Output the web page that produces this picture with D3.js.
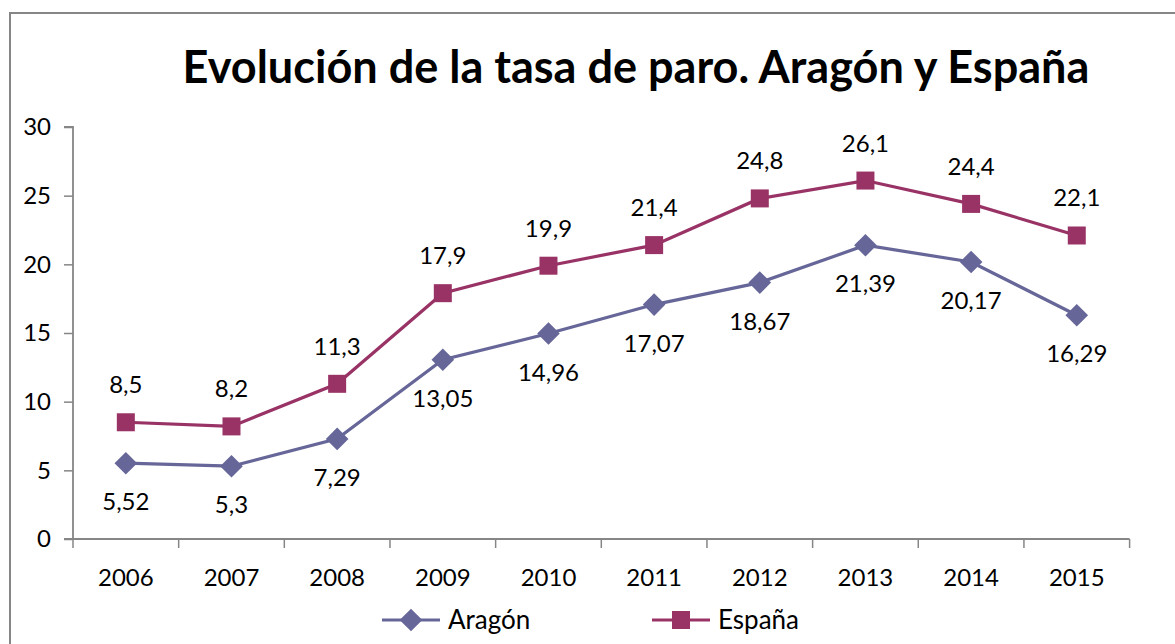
<!DOCTYPE html>
<html>
<head>
<meta charset="utf-8">
<script src="https://cdn.jsdelivr.net/npm/d3@7"></script>
<style>
  body { margin: 0; background: #fff; }
  text { font-family: Lato, "Open Sans", sans-serif; fill: #000; }
</style>
</head>
<body>
<script>
// Datos
let years = ["2006", "2007", "2008", "2009", "2010", "2011", "2012", "2013", "2014", "2015"];
let aragon = [5.52, 5.3, 7.29, 13.05, 14.96, 17.07, 18.67, 21.39, 20.17, 16.29];
let espana = [8.5, 8.2, 11.3, 17.9, 19.9, 21.4, 24.8, 26.1, 24.4, 22.1];
let yTicks = [0, 5, 10, 15, 20, 25, 30];
let title = "Evolución de la tasa de paro. Aragón y España";

let WIDTH = 1175, HEIGHT = 644;
let colAragon = "#666699", colEspana = "#993366", gris = "#868686";
let FS = 24; // tamaño de letra de etiquetas

let svg = d3.select("body").append("svg")
    .attr("width", WIDTH)
    .attr("height", HEIGHT);

// marco exterior (solo se ve arriba e izquierda)
svg.append("rect")
    .attr("x", 10).attr("y", 13)
    .attr("width", 1200).attr("height", 700)
    .attr("fill", "none").attr("stroke", gris).attr("stroke-width", 2);

// titulo, ajustado al ancho del original
let t = svg.append("text")
    .attr("x", 636).attr("y", 83)
    .attr("text-anchor", "middle")
    .attr("font-weight", "bold")
    .attr("font-size", 40)
    .text(title);
let w = t.node().getComputedTextLength();
t.attr("font-size", 40 * 907 / w);

let x = d3.scaleBand().domain(years).range([73, 1129.6]);
let y = d3.scaleLinear().domain([0, 30]).range([539, 127]);

// eje Y
let gy = svg.append("g")
    .attr("transform", "translate(73,0)")
    .call(d3.axisLeft(y).tickValues(yTicks).tickSize(9).tickPadding(13).tickFormat(d3.format("d")));
gy.selectAll("text").attr("font-size", FS).style("font-family", "Lato, sans-serif");

// eje X, marcas entre categorias
let gx = svg.append("g")
    .attr("transform", "translate(0,539)")
    .call(d3.axisBottom(x).tickSize(0).tickPadding(30));
gx.selectAll("text").attr("font-size", FS).style("font-family", "Lato, sans-serif");
gx.selectAll(".sep")
    .data(d3.range(years.length + 1))
    .enter().append("line")
    .attr("class", "sep")
    .attr("x1", i => 73 + i * x.bandwidth())
    .attr("x2", i => 73 + i * x.bandwidth())
    .attr("y1", 0).attr("y2", 9)
    .attr("stroke", gris).attr("stroke-width", 1.5);

[gx, gy].forEach(g => {
    g.selectAll(".domain").attr("stroke", gris).attr("stroke-width", 1.8);
    g.selectAll(".tick line").attr("stroke", gris).attr("stroke-width", 1.5);
});
gy.select(".domain").attr("d", "M-9,127H0V539H-9");
gx.select(".domain").attr("d", "M73,0H1129.6");

let cx = (d, i) => x(years[i]) + x.bandwidth() / 2;
let line = d3.line().x((d, i) => cx(d, i)).y(d => y(d));
let fmt = v => String(v).replace(".", ",");

// serie Aragon
svg.append("path").datum(aragon)
    .attr("d", line).attr("fill", "none")
    .attr("stroke", colAragon).attr("stroke-width", 3.2);
svg.selectAll(".mA").data(aragon).enter().append("path")
    .attr("class", "mA")
    .attr("d", d3.symbol().type(d3.symbolSquare).size(256))
    .attr("transform", (d, i) => `translate(${cx(d, i)},${y(d)}) rotate(45)`)
    .attr("fill", colAragon);
svg.selectAll(".lA").data(aragon).enter().append("text")
    .attr("class", "lA")
    .attr("x", (d, i) => cx(d, i)).attr("y", d => y(d) + 47)
    .attr("text-anchor", "middle").attr("font-size", FS)
    .text(fmt);

// serie Espana
svg.append("path").datum(espana)
    .attr("d", line).attr("fill", "none")
    .attr("stroke", colEspana).attr("stroke-width", 3.2);
svg.selectAll(".mE").data(espana).enter().append("rect")
    .attr("class", "mE")
    .attr("x", (d, i) => cx(d, i) - 9).attr("y", d => y(d) - 9)
    .attr("width", 18).attr("height", 18)
    .attr("fill", colEspana);
svg.selectAll(".lE").data(espana).enter().append("text")
    .attr("class", "lE")
    .attr("x", (d, i) => cx(d, i)).attr("y", d => y(d) - 29)
    .attr("text-anchor", "middle").attr("font-size", FS)
    .text(fmt);

// leyenda
let leg = svg.append("g");
let items = [
    {name: "Aragón", color: colAragon, x0: 382, sym: "d"},
    {name: "España", color: colEspana, x0: 652, sym: "s"}
];
items.forEach(it => {
    leg.append("line")
        .attr("x1", it.x0).attr("x2", it.x0 + 58)
        .attr("y1", 620).attr("y2", 620)
        .attr("stroke", it.color).attr("stroke-width", 3.2);
    if (it.sym === "d") {
        leg.append("path")
            .attr("d", d3.symbol().type(d3.symbolSquare).size(256))
            .attr("transform", `translate(${it.x0 + 29},620) rotate(45)`)
            .attr("fill", it.color);
    } else {
        leg.append("rect")
            .attr("x", it.x0 + 20).attr("y", 611)
            .attr("width", 18).attr("height", 18)
            .attr("fill", it.color);
    }
    leg.append("text")
        .attr("x", it.x0 + 66).attr("y", 629)
        .attr("font-size", 26)
        .text(it.name);
});
</script>
</body>
</html>
